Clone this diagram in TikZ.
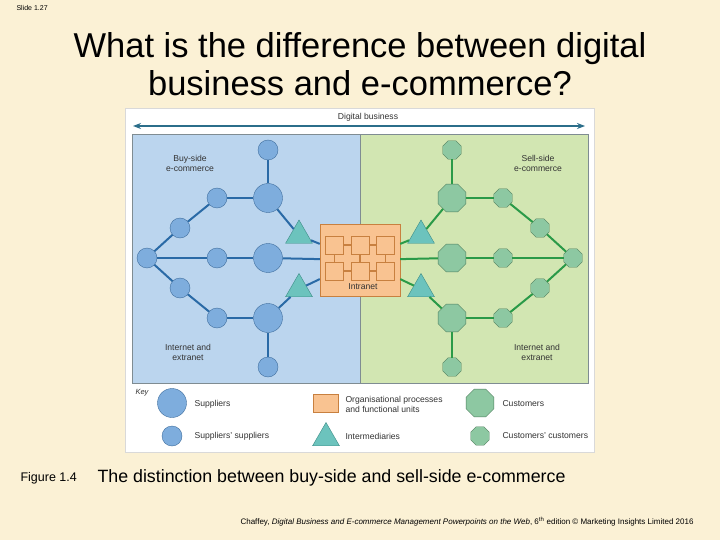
\documentclass[tikz,border=0pt]{standalone}
\usepackage{fontspec}
\setmainfont{Liberation Sans}
\usetikzlibrary{shapes.geometric, arrows.meta}

\definecolor{slidebg}{HTML}{FBF1D5}
\definecolor{buyfill}{HTML}{BBD5EE}
\definecolor{sellfill}{HTML}{D2E6B2}
\definecolor{regiondraw}{HTML}{7F8C92}
\definecolor{supfill}{HTML}{7EADDD}
\definecolor{supdraw}{HTML}{3F6E9E}
\definecolor{bluelink}{HTML}{2A6AA6}
\definecolor{custfill}{HTML}{8DC8A2}
\definecolor{custdraw}{HTML}{4E7D5C}
\definecolor{greenlink}{HTML}{2A9A48}
\definecolor{trifill}{HTML}{6CC3BD}
\definecolor{tridraw}{HTML}{3C8C86}
\definecolor{orgfill}{HTML}{F9C391}
\definecolor{orgdraw}{HTML}{C8803F}
\definecolor{arrowcol}{HTML}{2B6E8A}
\definecolor{labelcol}{HTML}{333333}

\begin{document}
\begin{tikzpicture}[x=1pt, y=-1pt,
        supplier/.style={
            circle,
            draw=supdraw, fill=supfill,
            inner sep=0pt,
            minimum size=29pt},
        supsup/.style={
            circle,
            draw=supdraw, fill=supfill,
            inner sep=0pt,
            minimum size=20pt},
        customer/.style={
            regular polygon, regular polygon sides=8,
            draw=custdraw, fill=custfill,
            inner sep=0pt,
            minimum size=30pt},
        custcust/.style={
            regular polygon, regular polygon sides=8,
            draw=custdraw, fill=custfill,
            inner sep=0pt,
            minimum size=20pt},
        intermediary/.style={
            regular polygon, regular polygon sides=3,
            draw=tridraw, fill=trifill,
            inner sep=0pt,
            minimum size=31pt},
        orgbox/.style={
            rectangle,
            draw=orgdraw, fill=orgfill,
            inner sep=0pt},
        unit/.style={
            orgbox,
            minimum size=18pt},
        bluewire/.style={
            draw=bluelink,
            line width=2pt},
        greenwire/.style={
            draw=greenlink,
            line width=2pt},
        unitwire/.style={
            draw=orgdraw,
            line width=1.2pt},
        lbl/.style={
            font=\fontsize{8.6}{10}\selectfont,
            text=labelcol,
            align=center},
        keylbl/.style={
            lbl,
            anchor=west,
            align=left}
        ]

        % slide and figure panel
        \fill [slidebg] (0,0) rectangle (720,540);
        \useasboundingbox (0,0) rectangle (720,540);
        \filldraw [fill=white, draw=black!15] (125,108) rectangle (594,452);
        \filldraw [fill=buyfill, draw=regiondraw] (132,134) rectangle (360,383);
        \filldraw [fill=sellfill, draw=regiondraw] (360,134) rectangle (588,383);

        \node (slide) [anchor=west, font=\fontsize{7}{8}\selectfont] at (13,8) {Slide 1.27};
        \node (title) [align=center, font=\fontsize{34.5}{38}\selectfont] at (360,64)
            {What is the difference between digital\\business and e-commerce?};

        % digital business arrow
        \coordinate (dbleft) at (133,126);
        \coordinate (dbright) at (585,126);
        \draw [{Stealth[length=8pt, width=6pt]}-{Stealth[length=8pt, width=6pt]}, draw=arrowcol, line width=1.3pt]
            (dbleft) -- (dbright);
        \node (dblabel) [lbl] at (368,117) {Digital business};

        % intranet
        \node (intranet) [orgbox, minimum width=80pt, minimum height=72pt] at (360,260) {};
        \node (u11) [unit] at (334.5,245) {};
        \node (u12) [unit] at (360,245) {};
        \node (u13) [unit] at (385.5,245) {};
        \node (u21) [unit] at (334.5,271) {};
        \node (u22) [unit] at (360,271) {};
        \node (u23) [unit] at (385.5,271) {};
        \draw [unitwire] (u11) -- (u12);
        \draw [unitwire] (u12) -- (u13);
        \draw [unitwire] (u21) -- (u22);
        \draw [unitwire] (u22) -- (u23);
        \draw [unitwire] (u11) -- (u21);
        \draw [unitwire] (u12) -- (u22);
        \draw [unitwire] (u13) -- (u23);
        \node (intranetlbl) [lbl] at (363,287) {Intranet};

        % buy-side
        \node (bss1) [supsup] at (268,150) {};
        \node (bsup1) [supplier] at (268,198) {};
        \node (bss2) [supsup] at (217,198) {};
        \node (bss3) [supsup] at (180,228) {};
        \node (bss4) [supsup] at (147,258) {};
        \node (bss5) [supsup] at (217,258) {};
        \node (bsup2) [supplier] at (268,258) {};
        \node (bss6) [supsup] at (180,288) {};
        \node (bss7) [supsup] at (217,318) {};
        \node (bsup3) [supplier] at (268,318) {};
        \node (bss8) [supsup] at (268,367) {};
        \node (btri1) [intermediary] at (299,235.5) {};
        \node (btri2) [intermediary] at (299,289) {};

        \draw [bluewire] (bss1) -- (bsup1);
        \draw [bluewire] (bsup1) -- (bss2);
        \draw [bluewire] (bss2) -- (bss3);
        \draw [bluewire] (bss3) -- (bss4);
        \draw [bluewire] (bss4) -- (bss5);
        \draw [bluewire] (bss5) -- (bsup2);
        \draw [bluewire] (bsup2) -- (intranet);
        \draw [bluewire] (bss4) -- (bss6);
        \draw [bluewire] (bss6) -- (bss7);
        \draw [bluewire] (bss7) -- (bsup3);
        \draw [bluewire] (bsup3) -- (bss8);
        \draw [bluewire] (bsup1) -- (btri1);
        \draw [bluewire] (btri1) -- (intranet);
        \draw [bluewire] (bsup3) -- (btri2);
        \draw [bluewire] (btri2) -- (intranet);

        \node (buylbl) [lbl] at (190,163) {Buy-side\\e-commerce};
        \node (buynet) [lbl] at (188,352) {Internet and\\extranet};

        % sell-side
        \node (scc1) [custcust] at (452,150) {};
        \node (scust1) [customer] at (452,198) {};
        \node (scc2) [custcust] at (503,198) {};
        \node (scc3) [custcust] at (540,228) {};
        \node (scc4) [custcust] at (573,258) {};
        \node (scc5) [custcust] at (503,258) {};
        \node (scust2) [customer] at (452,258) {};
        \node (scc6) [custcust] at (540,288) {};
        \node (scc7) [custcust] at (503,318) {};
        \node (scust3) [customer] at (452,318) {};
        \node (scc8) [custcust] at (452,367) {};
        \node (stri1) [intermediary] at (421,235.5) {};
        \node (stri2) [intermediary] at (421,289) {};

        \draw [greenwire] (scc1) -- (scust1);
        \draw [greenwire] (scust1) -- (scc2);
        \draw [greenwire] (scc2) -- (scc3);
        \draw [greenwire] (scc3) -- (scc4);
        \draw [greenwire] (scc4) -- (scc5);
        \draw [greenwire] (scc5) -- (scust2);
        \draw [greenwire] (scust2) -- (intranet);
        \draw [greenwire] (scc4) -- (scc6);
        \draw [greenwire] (scc6) -- (scc7);
        \draw [greenwire] (scc7) -- (scust3);
        \draw [greenwire] (scust3) -- (scc8);
        \draw [greenwire] (scust1) -- (stri1);
        \draw [greenwire] (stri1) -- (intranet);
        \draw [greenwire] (scust3) -- (stri2);
        \draw [greenwire] (stri2) -- (intranet);

        \node (selllbl) [lbl] at (538,163) {Sell-side\\e-commerce};
        \node (sellnet) [lbl] at (537,352) {Internet and\\extranet};

        % key
        \node (keytitle) [keylbl, font=\fontsize{7.5}{9}\selectfont\itshape] at (132,393) {Key};
        \node (keysup) [supplier] at (172,403) {};
        \node (keysupl) [keylbl] at (191,404) {Suppliers};
        \node (keyss) [supsup] at (172,436) {};
        \node (keyssl) [keylbl] at (191,436) {Suppliers' suppliers};
        \node (keyorg) [orgbox, minimum width=25pt, minimum height=18pt] at (326,403.5) {};
        \node (keyorgl) [keylbl] at (342,404) {Organisational processes\\and functional units};
        \node (keytri) [intermediary] at (326,438) {};
        \node (keytril) [keylbl] at (342,436) {Intermediaries};
        \node (keycust) [customer] at (480,403) {};
        \node (keycustl) [keylbl] at (499,404) {Customers};
        \node (keycc) [custcust] at (480,436) {};
        \node (keyccl) [keylbl] at (499,436) {Customers' customers};

        % captions
        \node (figno) [anchor=west, font=\fontsize{12.5}{14}\selectfont] at (17,478) {Figure 1.4};
        \node (caption) [anchor=west, font=\fontsize{17.8}{20}\selectfont] at (94,478)
            {The distinction between buy-side and sell-side e-commerce};
        \node (credit) [anchor=west, font=\fontsize{8}{9}\selectfont] at (237,522)
            {Chaffey, \textit{Digital Business and E-commerce Management Powerpoints on the Web}, 6\textsuperscript{th} edition \textcopyright\ Marketing Insights Limited 2016};

        \end{tikzpicture}
\end{document}
